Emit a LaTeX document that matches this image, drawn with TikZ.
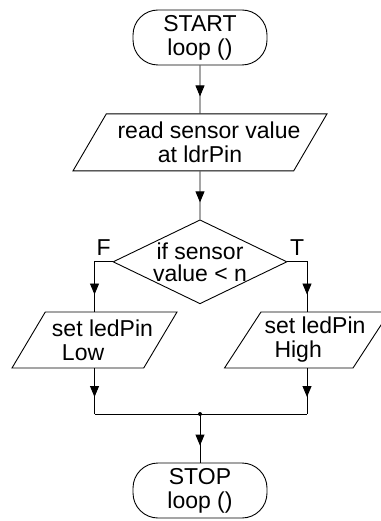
\documentclass[tikz,border=0pt]{standalone}
\usepackage{fontspec}
\setmainfont{Liberation Sans}
\usetikzlibrary{arrows.meta,shapes.geometric,positioning,decorations.markings}

\begin{document}
\begin{tikzpicture}[
x=1pt, y=-1pt, line width=0.9pt,
every node/.style={font=\fontsize{23}{24}\selectfont},
term-node/.style={draw, rectangle, rounded corners=25pt, minimum width=134pt, minimum height=55pt, align=center, inner sep=0pt},
io-node/.style={draw, trapezium, trapezium left angle=55, trapezium right angle=125, trapezium stretches body=true, minimum width=165pt, minimum height=56pt, inner xsep=-15pt, align=left},
decision-node/.style={draw, diamond, aspect=2.07, minimum width=174pt, minimum height=84pt, inner sep=-3pt, align=center, font=\fontsize{23}{22}\selectfont},
flow-line/.style={postaction={decorate}, decoration={markings, mark=at position -17pt with {\arrow{Triangle[width=9pt,length=11pt]}}}},
branch-label/.style={above, inner sep=6pt}
]
\useasboundingbox (0,0) rectangle (380,521);

\node [term-node] (start) at (200,37.5) {START\\loop ()};
\node [io-node, minimum width=254pt, minimum height=57pt, inner xsep=-13pt, align=center, below=48pt of start] (read) {\hspace*{18pt}read sensor value\\at ldrPin};
\node [decision-node, below=48pt of read] (check) {if sensor\\value < n};

\node [io-node] (low) at (94.5,340) {\hspace*{16pt}set ledPin\\\hspace*{26pt}Low};
\node [io-node] (high) at (307,340) {\hspace*{16pt}set ledPin\\\hspace*{26pt}High};

\coordinate (join) at (200,414);
\node [term-node] (stop) at (200,490.5) {STOP\\loop ()};

% arrows
\draw[flow-line] (start) -- (read);
\draw[flow-line] (read) -- (check);
\draw[flow-line] (check.west) -| node[branch-label, pos=0.25]{F} (low.north);
\draw[flow-line] (check.east) -| node[branch-label, pos=0.25]{T} (high.north);
\draw[flow-line] (low.south) -- (low.south |- join);
\draw[flow-line] (high.south) -- (high.south |- join);
\draw (low.south |- join) -- (high.south |- join);
\draw[flow-line] (join) -- (stop);
\fill (join) circle (2pt);

\end{tikzpicture}
\end{document}
